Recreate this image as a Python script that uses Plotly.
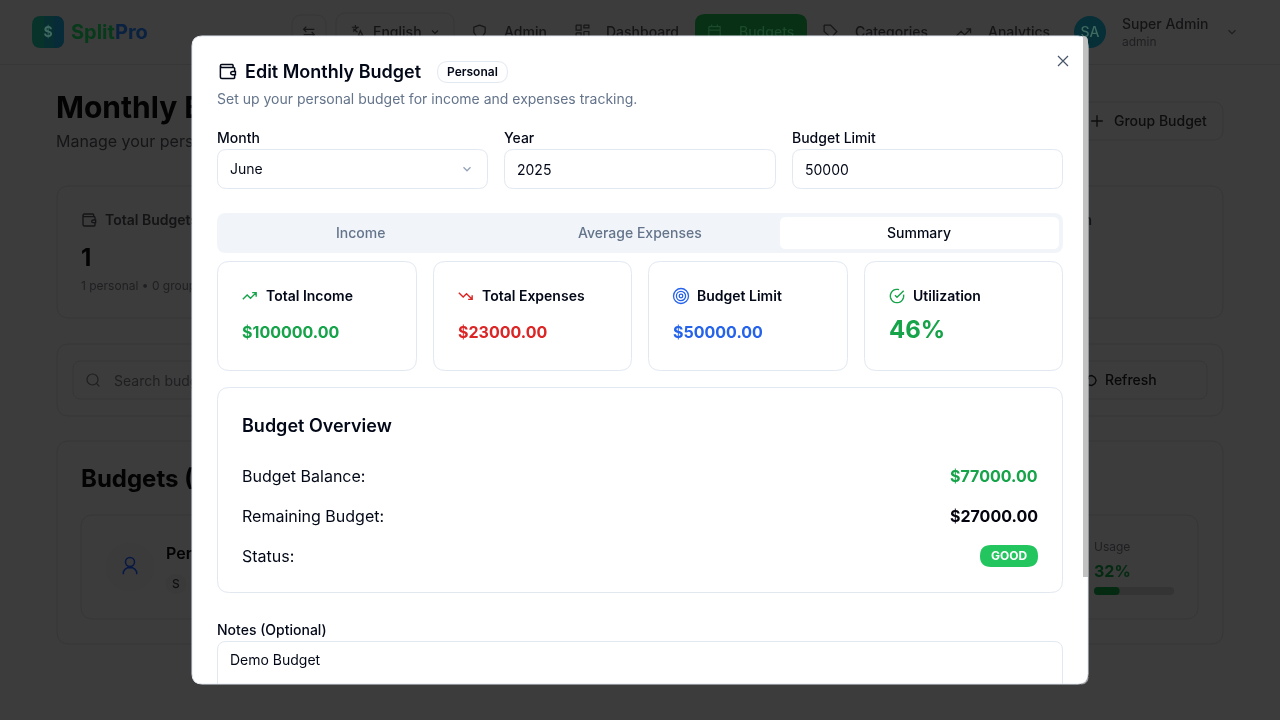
# Edit Monthly Budget dialog over the dimmed SplitPro page
import math
import plotly.graph_objects as go

# data
nav_items = ["Admin", "Dashboard", "Budgets", "Categories", "Analytics"]
form_labels = ["Month", "Year", "Budget Limit"]
form_values = ["June", "2025", "50000"]
tab_names = ["Income", "Average Expenses", "Summary"]
card_titles = ["Total Income", "Total Expenses", "Budget Limit", "Utilization"]
card_values = ["$100000.00", "$23000.00", "$50000.00", "46%"]
overview_labels = ["Budget Balance:", "Remaining Budget:", "Status:"]
overview_values = ["$77000.00", "$27000.00", "GOOD"]
usage_percent = 32

BG = "#3c3c3c"
EDGE = "#373737"
INK = "#020817"
BORDER = "#e2e8f0"
GREEN = "#16a34a"
RED = "#dc2626"
BLUE = "#2563eb"
card_colors = [GREEN, RED, BLUE, GREEN]
FONT = "Inter"

shapes = []
annotations = []
fig = go.Figure()


def rrect(x0, y0, x1, y1, r, fill="rgba(0,0,0,0)", line=None, width=1, layer="above"):
    path = (f"M{x0+r},{y0} L{x1-r},{y0} Q{x1},{y0} {x1},{y0+r} L{x1},{y1-r} Q{x1},{y1} {x1-r},{y1} "
            f"L{x0+r},{y1} Q{x0},{y1} {x0},{y1-r} L{x0},{y0+r} Q{x0},{y0} {x0+r},{y0} Z")
    shapes.append(dict(type="path", path=path, fillcolor=fill, layer=layer,
                       line=dict(color=line or fill, width=width if line else 0)))


def circle(cx, cy, r, fill="rgba(0,0,0,0)", line=None, width=1, layer="above"):
    shapes.append(dict(type="circle", x0=cx-r, x1=cx+r, y0=cy-r, y1=cy+r, fillcolor=fill, layer=layer,
                       line=dict(color=line or fill, width=width if line else 0)))


def icon(lines, x, y, size, color, width=1.5, layer="above"):
    # lines are polylines on a 24 unit grid, x/y is the top left corner of the icon
    k = size / 24
    path = ""
    for pts in lines:
        path += " ".join(("M" if i == 0 else "L") + f"{x+px*k:.2f},{y+py*k:.2f}" for i, (px, py) in enumerate(pts)) + " "
    shapes.append(dict(type="path", path=path.strip(), layer=layer, line=dict(color=color, width=width)))


def label(x, y, text, size=14, color=INK, weight=400, anchor="left"):
    annotations.append(dict(x=x, y=y, xref="x", yref="y", text=text, showarrow=False, xanchor=anchor,
                            yanchor="middle", borderpad=0, borderwidth=0,
                            font=dict(family=FONT, size=size, color=color, weight=weight)))


def back_text(x, y, text, size=14, color="#141416", weight=400, anchor="left"):
    # page text goes in a trace so the dialog shapes can cover it
    pos = {"left": "middle right", "right": "middle left", "center": "middle center"}[anchor]
    fig.add_trace(go.Scatter(x=[x], y=[y + size * 0.11], mode="text", text=[text], textposition=pos, hoverinfo="skip",
                             cliponaxis=False, showlegend=False,
                             textfont=dict(family=FONT, size=size, color=color, weight=weight)))


CHEVRON = [[(6, 9), (12, 15), (18, 9)]]
WALLET = [[(19, 7), (19, 4), (18, 3), (5, 3), (3.5, 3.6), (3, 5), (3.5, 6.4), (5, 7), (20, 7), (21, 8), (21, 12)],
          [(3, 5), (3, 19), (3.6, 20.4), (5, 21), (20, 21), (21, 20), (21, 16)],
          [(21, 12), (18, 12), (16.5, 12.6), (16, 14), (16.5, 15.4), (18, 16), (22, 16), (22, 12), (21, 12)]]
TREND_UP = [[(22, 7), (13.5, 15.5), (8.5, 10.5), (2, 17)], [(16, 7), (22, 7), (22, 13)]]
TREND_DOWN = [[(22, 17), (13.5, 8.5), (8.5, 13.5), (2, 7)], [(16, 17), (22, 17), (22, 11)]]
CHECK_RING = [[(12 + 10 * math.cos(math.radians(a)), 12 + 10 * math.sin(math.radians(a))) for a in range(-12, 300, 12)],
              [(9, 11), (12, 14), (22, 4)]]
CROSS = [[(18, 6), (6, 18)], [(6, 6), (18, 18)]]
PLUS = [[(5, 12), (19, 12)], [(12, 5), (12, 19)]]

# ---- page behind the dialog ----
shapes.append(dict(type="line", x0=0, x1=1280, y0=64.5, y1=64.5, layer="below", line=dict(color=EDGE, width=1)))
rrect(32, 16, 64, 48, 9, fill="#07332a", layer="below")
rrect(48, 16, 64, 48, 9, fill="#072b38", layer="below")
rrect(44, 16, 54, 48, 0, fill="#072f31", layer="below")
back_text(48, 32, "$", 14, "#3f6a60", 700, "center")
back_text(71, 32, '<span style="color:#073a1a">Split</span><span style="color:#0a2240">Pro</span>', 20, "#073a1a", 700)

rrect(292, 15, 326, 60, 10, line=EDGE, layer="below")
rrect(336, 13, 454, 60, 10, line=EDGE, layer="below")
icon([[(4, 8), (20, 8)], [(8, 4), (4, 8), (8, 12)], [(4, 16), (20, 16)], [(16, 12), (20, 16), (16, 20)]],
     301, 24, 16, "#161616", 1.2, "below")
icon([[(4, 6), (14, 6)], [(9, 3), (9, 6)], [(6, 12), (12, 6)], [(6, 8), (12, 13)], [(12, 21), (16, 11), (21, 21)], [(13, 18), (19, 18)]],
     349, 23, 17, "#161616", 1.2, "below")
back_text(373, 32, "English", 14, "#141416", 500)
icon(CHEVRON, 429, 26, 12, "#161616", 1.2, "below")

rrect(695, 14, 807, 60, 10, fill="#073014", layer="below")
nav_x = [504, 606, 739, 855, 988]
for x, name in zip(nav_x, nav_items):
    back_text(x, 32, name, 14, "#1c4a2a" if name == "Budgets" else "#141416", 500)
icon([[(12, 3), (20, 6), (20, 13), (17, 18), (12, 21), (7, 18), (4, 13), (4, 6), (12, 3)]], 471, 23, 17, "#161616", 1.2, "below")
icon([[(3, 3), (10, 3), (10, 10), (3, 10), (3, 3)], [(14, 3), (21, 3), (21, 7), (14, 7), (14, 3)],
      [(14, 12), (21, 12), (21, 21), (14, 21), (14, 12)], [(3, 14), (10, 14), (10, 21), (3, 21), (3, 14)]],
     574, 23, 17, "#161616", 1.2, "below")
icon([[(4, 5), (20, 5), (20, 21), (4, 21), (4, 5)], [(4, 10), (20, 10)], [(8, 2), (8, 6)], [(16, 2), (16, 6)]],
     706, 23, 17, "#1c4a2a", 1.2, "below")
icon([[(3, 3), (12, 3), (21, 12), (13, 21), (3, 12), (3, 3)]], 822, 23, 17, "#161616", 1.2, "below")
icon(TREND_UP, 955, 24, 17, "#161616", 1.2, "below")
circle(1090, 32, 16, fill="#072f38", layer="below")
back_text(1090, 32, "SA", 14, "#3f6a60", 500, "center")
back_text(1122, 24, "Super Admin", 14, "#141416", 500)
back_text(1122, 42, "admin", 12, "#1f1f22")
icon(CHEVRON, 1225, 25, 14, "#1f1f22", 1.2, "below")

back_text(56, 107, "Monthly B", 30, "#030303", 700)
back_text(56, 141, "Manage your pers", 16, "#151518")
rrect(1000, 102, 1223, 140, 10, line=EDGE, layer="below")
icon(PLUS, 1087, 111, 20, "#0d0d0d", 1.4, "below")
back_text(1114, 121, "Group Budget", 14, "#0d0d0d", 500)

rrect(57, 186, 1223, 318, 12, line=EDGE, layer="below")
icon(WALLET, 81, 212, 16, "#141416", 1.3, "below")
back_text(105, 220, "Total Budgets", 14, "#141416", 600)
back_text(81, 257, "1", 24, "#030303", 700)
back_text(81, 286, "1 personal • 0 groups", 12, "#1f1f22")
back_text(1092, 220, "Utilization", 14, "#141416", 600, "right")

rrect(57, 344, 1223, 416, 12, line=EDGE, layer="below")
rrect(73, 361, 1207, 399, 8, line=EDGE, layer="below")
circle(92.5, 379.5, 5.5, line="#1f1f22", width=1.2, layer="below")
icon([[(16, 16), (20, 20)]], 86, 373, 16, "#1f1f22", 1.2, "below")
back_text(114, 381, "Search budgets", 14, "#1f1f22")
back_text(1105, 380, "Refresh", 14, "#080808", 500)
icon([[(6, 5), (6, 9), (10, 9)], [(6, 9), (10, 5), (14, 4), (19, 7), (21, 12), (19, 17), (14, 20), (9, 19)]],
     1083, 373, 15, "#080808", 1.3, "below")

rrect(57, 441, 1223, 644, 12, line=EDGE, layer="below")
back_text(81, 478, "Budgets (1)", 24, "#030303", 700)
rrect(81, 515, 1198, 619, 12, line=EDGE, layer="below")
circle(130, 567, 24, fill="#3b3b3c", layer="below")
circle(130, 562, 4.5, line="#071845", width=1.5, layer="below")
icon([[(4, 22), (4, 19), (6, 16), (9, 14), (15, 14), (18, 16), (20, 19), (20, 22)]], 120, 556, 20, "#071845", 1.5, "below")
back_text(166, 553, "Personal", 16, "#030303", 600)
circle(176, 584, 10, fill="#3a3a3b", layer="below")
back_text(176, 584, "S", 12, "#101012", 500, "center")
back_text(1094, 547, "Usage", 12, "#1f1f22")
back_text(1094, 571, f"{usage_percent}%", 16, "#042a11", 700)
rrect(1094, 587, 1174, 595, 4, fill="#343434", layer="below")
rrect(1094, 587, 1094 + 80 * usage_percent / 100, 595, 4, fill="#042a11", layer="below")

# ---- dialog ----
rrect(192, 36, 1088, 684, 10, fill="#ffffff", line=BORDER)
shapes.append(dict(type="path", path="M1083,36 Q1088,36 1088,41 L1088,577 L1083,577 Z",
                   fillcolor="#c1c1c1", layer="above", line=dict(width=0)))
shapes.append(dict(type="path", path="M1088,677 Q1088,684 1081,684", layer="above", line=dict(color="#a8a8a8", width=1)))

icon(WALLET, 218, 62, 19, INK, 1.5)
label(245, 71.5, "Edit Monthly Budget", 18, INK, 600)
rrect(437.5, 61.5, 507.5, 82.5, 10.5, fill="#ffffff", line=BORDER)
label(472.5, 71.5, "Personal", 12, INK, 600, "center")
label(217, 98, "Set up your personal budget for income and expenses tracking.", 14, "#64748b")
icon(CROSS, 1053, 51, 20, "#475569", 1.2)

field_x = [(217, 488), (504, 776), (792, 1063)]
field_text_y = [168.5, 169.5, 169.5]
for (x0, x1), name, value, y in zip(field_x, form_labels, form_values, field_text_y):
    label(x0, 137, name, 14, INK, 500)
    rrect(x0 + 0.5, 149.5, x1 - 0.5, 188.5, 9, fill="#ffffff", line=BORDER)
    label(x0 + 13, y, value, 14, INK)
icon(CHEVRON, 460, 162, 14, "#94a3b8", 1.3)

rrect(217, 213, 1063, 253, 9, fill="#f1f5f9")
rrect(780, 217, 1059, 249, 6, fill="#ffffff")
tab_x = [360.5, 640, 919]
for x, name in zip(tab_x, tab_names):
    label(x, 232, name, 14, INK if name == "Summary" else "#64748b", 500, "center")

card_x = [(217, 417), (433, 632), (648, 848), (864, 1063)]
for (x0, x1), title, value, color in zip(card_x, card_titles, card_values, card_colors):
    rrect(x0 + 0.5, 261.5, x1 - 0.5, 370.5, 12, fill="#ffffff", line=BORDER)
    label(x0 + 49, 295, title, 14, INK, 600)
    if value.endswith("%"):
        label(x0 + 25, 329.5, value, 24, color, 700)
    else:
        label(x0 + 25, 332, value, 16, color, 700)
icon(TREND_UP, 241.5, 288, 16, GREEN, 1.4)
icon(TREND_DOWN, 457.5, 288, 16, RED, 1.4)
for r in (7.5, 4.6, 1.8):
    circle(681, 296, r, line=BLUE, width=1.3)
icon(CHECK_RING, 889, 288, 16, GREEN, 1.4)

rrect(217.5, 387.5, 1062.5, 592.5, 12, fill="#ffffff", line=BORDER)
label(242, 425, "Budget Overview", 18, INK, 600)
row_y = [476, 516, 556]
row_colors = [GREEN, "#050510", "#ffffff"]
rrect(980, 545, 1038, 567, 11, fill="#22c55e")
for y, name, value, color in zip(row_y, overview_labels, overview_values, row_colors):
    label(242, y, name, 16, INK)
    if value == "GOOD":
        label(1009, y - 1, value, 12, color, 700, "center")
    else:
        label(1038, y, value, 16, color, 700, "right")

label(217, 629, "Notes (Optional)", 14, INK, 500)
shapes.append(dict(type="path", path="M217.5,684 L217.5,650 Q217.5,641.5 226,641.5 L1054,641.5 Q1062.5,641.5 1062.5,650 L1062.5,684",
                   layer="above", line=dict(color=BORDER, width=1)))
label(230, 659, "Demo Budget", 14, INK)

fig.update_layout(
    width=1280, height=720, margin=dict(l=0, r=0, t=0, b=0),
    paper_bgcolor=BG, plot_bgcolor=BG, showlegend=False,
    xaxis=dict(range=[0, 1280], visible=False, fixedrange=True),
    yaxis=dict(range=[720, 0], visible=False, fixedrange=True),
    shapes=shapes, annotations=annotations,
)
# body margin off, and the slight backdrop blur of the page behind the dialog
fig.write_html("out.html", config={"displayModeBar": False},
               post_script="document.body.style.margin='0';document.body.style.overflow='hidden';"
                           "document.querySelectorAll('.cartesianlayer,.layer-below').forEach(function(g){g.style.filter='blur(0.6px)';});")
